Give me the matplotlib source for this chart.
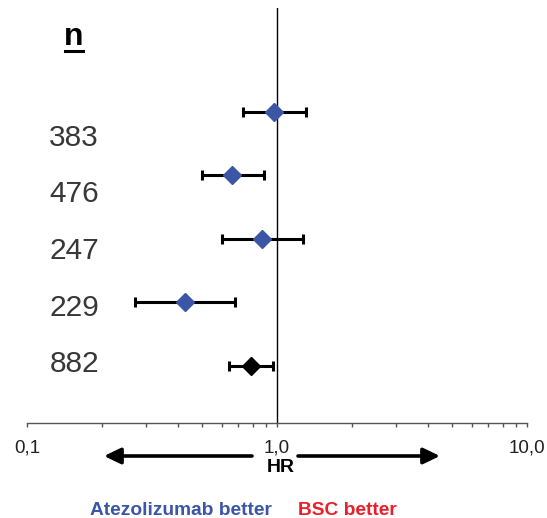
import matplotlib
matplotlib.use("Agg")
import matplotlib.pyplot as plt
from matplotlib.lines import Line2D

plt.rcParams["font.family"] = ["Liberation Sans", "DejaVu Sans"]

# data
n_labels = ["383", "476", "247", "229", "882"]
hr = [0.97, 0.66, 0.87, 0.43, 0.79]
ci_low = [0.73, 0.50, 0.60, 0.27, 0.64]
ci_high = [1.31, 0.885, 1.27, 0.68, 0.96]
rows = [5, 4, 3, 2, 1]
point_colors = ["#3c56a6", "#3c56a6", "#3c56a6", "#3c56a6", "black"]
tick_vals = [0.1, 1, 10]
tick_text = ["0,1", "1,0", "10,0"]

W, H = 547, 518
fig = plt.figure(figsize=(W / 100, H / 100), dpi=100)
ax = fig.add_axes([27 / W, (H - 423) / H, 500 / W, 415 / H])

ax.set_xscale("log")
ax.set_xlim(0.1, 10)
ax.set_ylim(0.098, 6.633)

ax.axvline(1, color="black", lw=1, zorder=1)

xerr = [[h - lo for h, lo in zip(hr, ci_low)],
        [hi - h for h, hi in zip(hr, ci_high)]]
ax.errorbar(hr, rows, xerr=xerr, fmt="none", ecolor="black",
            elinewidth=2.2, capsize=3.5, capthick=2.2, zorder=2)
for x, y, c in zip(hr, rows, point_colors):
    ax.plot(x, y, marker="D", ms=8.7, color=c, mec=c, ls="none", zorder=3)

for s in ["left", "top", "right"]:
    ax.spines[s].set_visible(False)
ax.spines["bottom"].set_color("#555555")
ax.spines["bottom"].set_linewidth(1)
ax.set_yticks([])
ax.set_xticks(tick_vals)
ax.set_xticklabels(tick_text)
ax.tick_params(axis="x", which="both", direction="out", length=3,
               color="#555555", width=1, pad=9, labelsize=13.6,
               labelcolor="#222222")

# n column
fig.text(74 / W, (H - 45) / H, "n", fontsize=23, fontweight="bold",
         ha="center", va="baseline", color="black")
fig.add_artist(Line2D([65 / W, 83 / W], [(H - 50.5) / H] * 2,
                      color="black", lw=2.2))
label_base = [146, 202, 259, 316, 372]
for lab, yb in zip(n_labels, label_base):
    fig.text(99 / W, (H - yb) / H, lab, fontsize=21.5, ha="right",
             va="baseline", color="#383838")

# direction arrows
arrow = dict(arrowstyle="-|>,head_length=1.0,head_width=0.48",
             lw=2.6, color="black", shrinkA=0, shrinkB=0, mutation_scale=10)
ax.annotate("", xy=(104, H - 456), xytext=(252, H - 456),
            xycoords="figure pixels", textcoords="figure pixels",
            arrowprops=arrow)
ax.annotate("", xy=(440, H - 456), xytext=(298, H - 456),
            xycoords="figure pixels", textcoords="figure pixels",
            arrowprops=arrow)
fig.text(281 / W, (H - 468) / H, "HR", fontsize=14, fontweight="bold",
         ha="center", va="center", color="black")

fig.text(90 / W, (H - 515) / H, "Atezolizumab better", fontsize=13.8,
         fontweight="bold", color="#3c56a6", ha="left", va="baseline")
fig.text(298 / W, (H - 515) / H, "BSC better", fontsize=13.8,
         fontweight="bold", color="#e8202a", ha="left", va="baseline")

fig.savefig("out.png", dpi=100)
